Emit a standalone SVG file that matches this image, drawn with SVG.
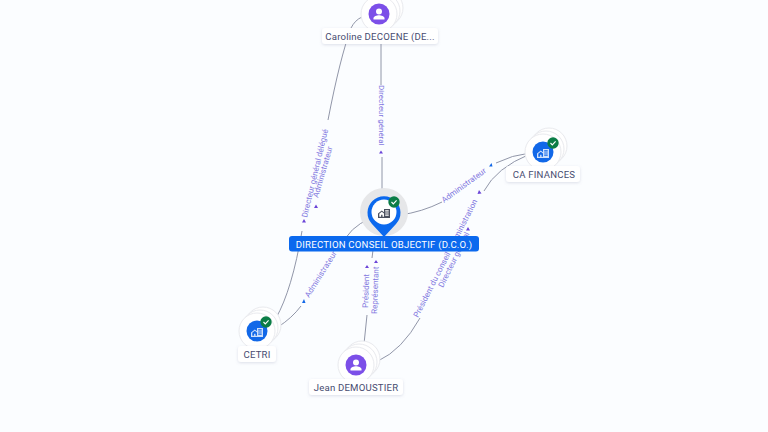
<svg xmlns="http://www.w3.org/2000/svg" width="768" height="432" viewBox="0 0 768 432">
<defs>
<filter id="sh" x="-20%" y="-40%" width="140%" height="200%"><feDropShadow dx="0" dy="1" stdDeviation="1.500" flood-color="#8890b0" flood-opacity="0.28"/></filter>
<g id="stack"><circle cx="6" cy="-6" r="18" class="disc"/><circle cx="3" cy="-3" r="18" class="disc"/><circle cx="0" cy="0" r="18" class="disc"/></g>
<g id="person"><circle r="10.500" fill="#7c4fe8"/><circle cy="-2.600" r="3" fill="#fff"/><path d="M-5.500 5.500v-1.200c0-2 3.200-3 5.500-3s5.500 1 5.500 3v1.200z" fill="#fff"/></g>
<g id="bld"><path d="M-6 5v-4.500l3.800-3 2.200 1.700v-3.200h6v9zM-4.700 3.800h1.800v-2h1.400v2h1.500v-3.200l-2.200-1.800-2.500 2zM1.200-2.800v1.200h3.500v-1.200zM1.200-.6v1.200h3.500v-1.200zM1.200 1.600v1.200h3.500v-1.200z" fill-rule="evenodd"/></g>
<g id="badge"><circle r="5.700" fill="#0b7d46"/><path d="M-2.500 0l1.800 1.900 3.300-3.500" fill="none" stroke="#fff" stroke-width="1.100"/></g>
</defs>
<style>
.disc{fill:#fff;stroke:#e9eaee;stroke-width:1}
.c{fill:none;stroke:#858a9e;stroke-width:.9}
.e{font:8px Roboto,"Liberation Sans",sans-serif;fill:#8278e0}
.a{fill:#6b45d8}
.b{fill:#1268e8}
.lb{fill:#fff;filter:url(#sh)}
.t{font:9.600px Roboto,"Liberation Sans",sans-serif;fill:#474c70;text-anchor:middle;letter-spacing:.2px}
</style>
<rect width="768" height="432" fill="#fbfdff"/>
<g id="connectors">
<path class="c" d="M362 17Q355 20 351 28Q340 58 328 120"/><path class="c" d="M302 231Q292 290 276 318"/>
<path class="c" d="M278 327Q292 318 301 306"/><path class="c" d="M340 248Q350 226 370 219"/>
<path class="c" d="M381 43L381 85"/><path class="c" d="M382 157V197"/>
<path class="c" d="M400 215Q422 212 442 202"/><path class="c" d="M496 163Q512 155 530 153"/>
<path class="c" d="M484 191Q496 168 530 154"/><path class="c" d="M420 318Q402 350 378 361"/>
<path class="c" d="M373 250L372 258"/><path class="c" d="M367 315L364 344"/>
<text class="e" transform="translate(307 218) rotate(-76.500)">Directeur général délégué</text>
<text class="e" transform="translate(318 198) rotate(-74)">Administrateur</text>
<text class="e" transform="translate(309 298) rotate(-58)">Administrateur</text>
<text class="e" transform="translate(379 85) rotate(90)">Directeur général</text>
<text class="e" transform="translate(444 203) rotate(-36)">Administrateur</text>
<text class="e" transform="translate(418 318) rotate(-63)">Président du conseil d'administration</text>
<text class="e" transform="translate(443 288) rotate(-64)">Directeur général</text>
<text class="e" transform="translate(368 308) rotate(-88)">Président</text>
<text class="e" transform="translate(377 314) rotate(-88)">Représentant</text>
<path class="a" d="M304 219l2 3.500h-4zM316 204.500l2 3.500h-4zM381 150.500l2 3h-4zM479 190l2.500 3.500-4 .5zM468 227l2 3.500-4 0zM367 265l2 3h-4zM376 260l2 3h-4z"/>
<path class="b" d="M304 299l1.500 4h-3.500zM491.500 163l1 3.500-3.500 0z"/>
</g>
<g id="node-caroline"><use href="#stack" x="379" y="14"/><use href="#person" x="379" y="14"/><rect class="lb" x="322" y="28" width="116" height="16" rx="3"/><text class="t" x="380" y="40">Caroline DECOENE (DE...</text></g>
<g id="node-finances"><use href="#stack" x="543" y="152"/><circle cx="543" cy="152" r="10.500" fill="#1268e8"/><use href="#bld" x="543" y="153" fill="#cfe0fb"/><use href="#badge" x="553" y="143"/><rect class="lb" x="506" y="166" width="74" height="16" rx="3"/><text class="t" x="544" y="178">CA FINANCES</text></g>
<g id="node-cetri"><use href="#stack" x="257" y="331"/><circle cx="257" cy="331" r="10.500" fill="#1268e8"/><use href="#bld" x="257" y="332" fill="#cfe0fb"/><use href="#badge" x="266" y="322"/><rect class="lb" x="238" y="346" width="38" height="16" rx="3"/><text class="t" x="257" y="358">CETRI</text></g>
<g id="node-jean"><use href="#stack" x="356" y="365"/><use href="#person" x="356" y="365"/><rect class="lb" x="309" y="379" width="94" height="16" rx="3"/><text class="t" x="356" y="391">Jean DEMOUSTIER</text></g>
<g id="node-dco"><circle cx="384" cy="212" r="24" fill="#e6e7e9"/><path d="M372 224A16.500 16.500 0 1 1 396 224L384 237z" fill="#0b69ee"/><circle cx="384" cy="212" r="12.500" fill="#fff"/><use href="#bld" x="384" y="213" fill="#4a4f5e"/><use href="#badge" x="394" y="202"/><rect x="289" y="236" width="190" height="15.500" rx="3" fill="#0b69ee"/><text class="t" x="384" y="248" style="fill:#fff">DIRECTION CONSEIL OBJECTIF (D.C.O.)</text></g>
</svg>
